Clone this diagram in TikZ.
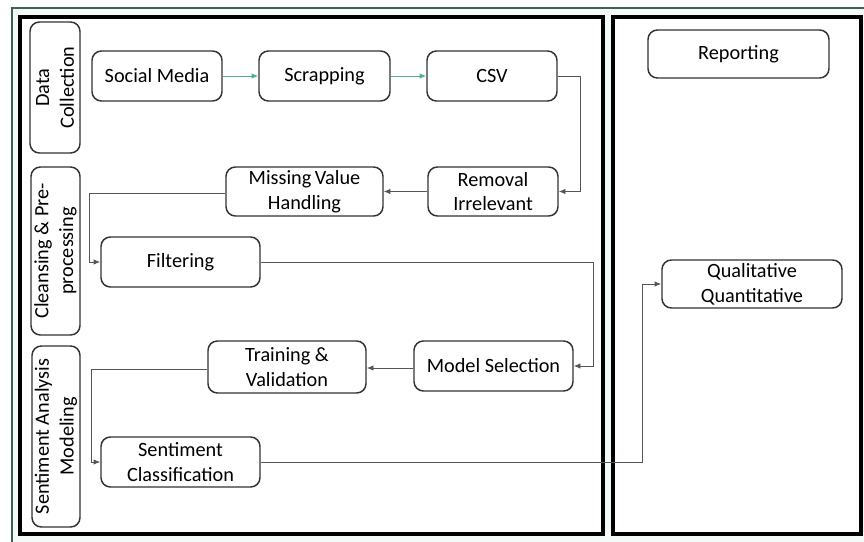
\documentclass[tikz,border=0pt]{standalone}
\usepackage{fontspec}
\setmainfont{Carlito}
\usetikzlibrary{arrows.meta}
\definecolor{framecol}{HTML}{3F5F5A}
\definecolor{mintbg}{HTML}{F3FAF8}
\definecolor{linkcol}{HTML}{555555}
\definecolor{greenlink}{HTML}{4FAF93}
\begin{document}
\begin{tikzpicture}[x=0.75pt, y=-0.75pt,
  font=\fontsize{15.2}{18.5}\selectfont,
  stage/.style={draw=black!80, line width=1.1pt, rounded corners=7pt, align=center, inner sep=0pt},
  side/.style={draw=black!80, line width=1.1pt, rounded corners=7pt, align=center, rotate=90, inner sep=0pt},
  link/.style={draw=linkcol, line width=0.6pt, -{Latex[length=5pt,width=4pt]}},
  glink/.style={draw=greenlink, line width=0.6pt, -{Latex[length=5pt,width=4pt]}}]
\useasboundingbox (0,0) rectangle (864,542);
\fill[mintbg] (12,8) rectangle (864,542);
\draw[framecol, line width=0.8pt] (12,542) -- (12,8) -- (864,8);
\draw[line width=2.3pt, fill=white] (20,17) rectangle (603,534);
\draw[line width=2.3pt, fill=white] (613,17) rectangle (861,534);

% phases
\node[side, minimum width=131*0.75pt, minimum height=50*0.75pt] (DataCol) at (55,87.5) {Data\\Collection};
\node[side, minimum width=168*0.75pt, minimum height=49*0.75pt] (Cleansing) at (55.5,251) {Cleansing \& Pre-\\processing};
\node[side, minimum width=181*0.75pt, minimum height=48*0.75pt] (SAModel) at (56,436.5) {Sentiment Analysis\\Modeling};

% data collection
\node[stage, minimum width=130*0.75pt, minimum height=50*0.75pt] (Social) at (157,76) {Social Media};
\node[stage, minimum width=131*0.75pt, minimum height=50*0.75pt] (Scrap) at (324.5,76) {Scrapping};
\node[stage, minimum width=130*0.75pt, minimum height=50*0.75pt] (CSV) at (492,76) {CSV};

% cleansing
\node[stage, minimum width=130*0.75pt, minimum height=49*0.75pt] (Removal) at (493,191.5) {Removal\\Irrelevant};
\node[stage, minimum width=157*0.75pt, minimum height=49*0.75pt] (Missing) at (304.5,191.5) {Missing\,Value\\Handling};
\node[stage, minimum width=159*0.75pt, minimum height=50*0.75pt] (Filter) at (180.5,262) {Filtering};

% modeling
\node[stage, minimum width=159*0.75pt, minimum height=50*0.75pt] (ModelSel) at (493.5,366) {Model Selection};
\node[stage, minimum width=158*0.75pt, minimum height=52*0.75pt] (Training) at (287,367) {Training \&\\Validation};
\node[stage, minimum width=159*0.75pt, minimum height=50*0.75pt] (SentClass) at (180.5,462) {Sentiment\\Classification};

% reporting
\node[stage, minimum width=181*0.75pt, minimum height=48*0.75pt] (Report) at (738.5,54) {Reporting};
\node[stage, minimum width=180*0.75pt, minimum height=48*0.75pt] (QualQuant) at (752,284) {Qualitative\\Quantitative};

\draw[glink] (Social) -- (Scrap);
\draw[glink] (Scrap) -- (CSV);
\draw[link] (CSV.east) -- (580,76) -- (580,191.5) -- (Removal.east);
\draw[link] (Removal) -- (Missing);
\draw[link] (Missing.west |- 0,193) -- (89,193) -- (89,262) -- (Filter.west);
\draw[link] (Filter.east) -- (593,262) -- (593,366) -- (ModelSel.east);
\draw[link] (ModelSel.west |- 0,368) -- (Training.east |- 0,368);
\draw[link] (Training.west |- 0,369) -- (91,369) -- (91,462) -- (SentClass.west);
\draw[link] (SentClass.east) -- (642,462) -- (642,284) -- (QualQuant.west);
\end{tikzpicture}
\end{document}
